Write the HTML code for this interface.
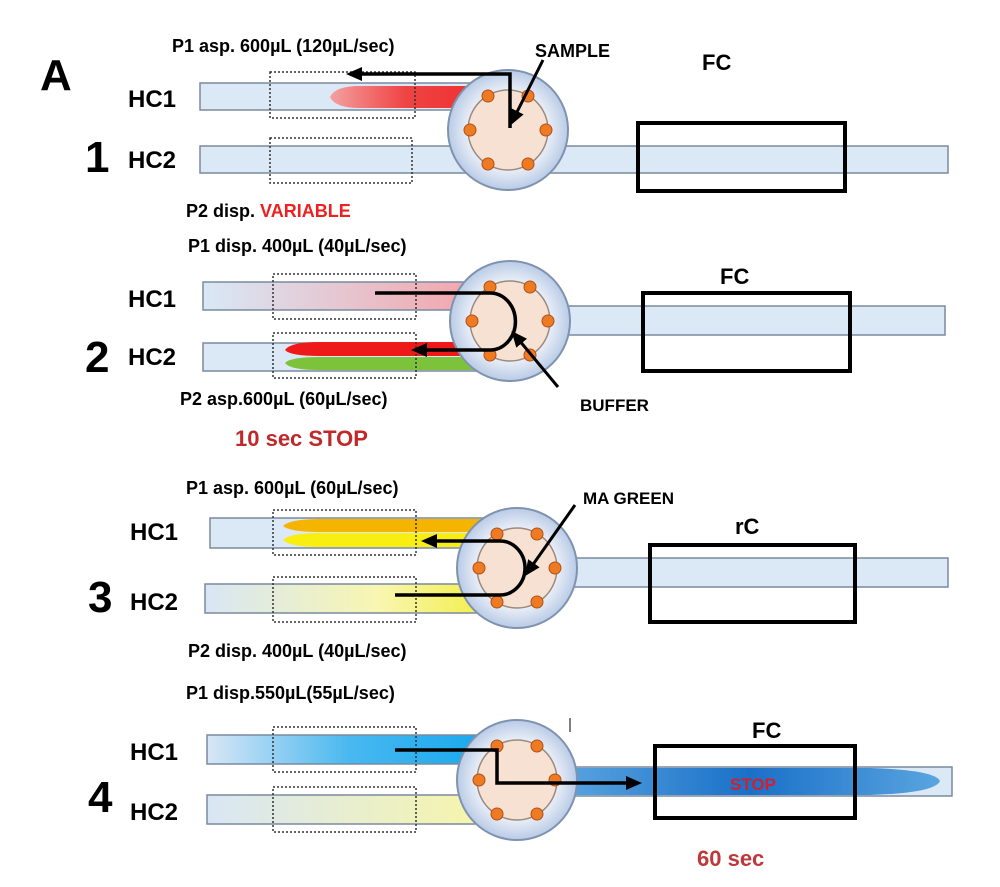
<!DOCTYPE html>
<html><head><meta charset="utf-8"><style>
html,body{margin:0;padding:0;background:#fff;width:1000px;height:887px;overflow:hidden}
svg{display:block}
text{font-family:"Liberation Sans",sans-serif;font-weight:bold}
</style></head><body>
<svg width="1000" height="887" viewBox="0 0 1000 887" xmlns="http://www.w3.org/2000/svg">
<defs>
<radialGradient id="vg" cx="50%" cy="50%" r="50%"><stop offset="0.6" stop-color="#f4f6fb"/><stop offset="1" stop-color="#b9cbe6"/></radialGradient>
<linearGradient id="red1" x1="0" x2="1"><stop offset="0" stop-color="#f4a0a0"/><stop offset="0.5" stop-color="#ef4444"/><stop offset="1" stop-color="#ee3030"/></linearGradient>
<linearGradient id="pink" x1="0" x2="1"><stop offset="0" stop-color="#d8e8f6"/><stop offset="1" stop-color="#f4a2a8"/></linearGradient>
<linearGradient id="yel" x1="0" x2="1"><stop offset="0" stop-color="#d8e6f5"/><stop offset="0.6" stop-color="#f8f6b0"/><stop offset="1" stop-color="#f3ee40"/></linearGradient>
<linearGradient id="yel4" x1="0" x2="1"><stop offset="0" stop-color="#d8e6f5"/><stop offset="1" stop-color="#f8f6a8"/></linearGradient>
<linearGradient id="blu" x1="0" x2="1"><stop offset="0" stop-color="#d8e6f5"/><stop offset="0.5" stop-color="#49b8f0"/><stop offset="1" stop-color="#15a8ee"/></linearGradient>
<linearGradient id="bluFC" x1="0" x2="1"><stop offset="0" stop-color="#5aa5e0"/><stop offset="0.5" stop-color="#1a70c8"/><stop offset="1" stop-color="#5aa5e0"/></linearGradient>
<g id="valve">
<circle r="60" fill="url(#vg)" stroke="#7f93b0" stroke-width="2"/>
<circle r="40" fill="#f7e1d2" stroke="#9a8a80" stroke-width="1.5"/>
<g fill="#ee7b22" stroke="#b0501a" stroke-width="1">
<circle cx="-20" cy="-34" r="6"/><circle cx="20" cy="-34" r="6"/><circle cx="38" cy="0" r="6"/>
<circle cx="20" cy="34" r="6"/><circle cx="-20" cy="34" r="6"/><circle cx="-38" cy="0" r="6"/></g>
</g>
<marker id="ah" markerWidth="16" markerHeight="14" refX="12" refY="7" orient="auto" markerUnits="userSpaceOnUse"><path d="M0,0 L16,7 L0,14 Z" fill="#000"/></marker>
</defs>

<!-- Panel 1 -->
<text x="40" y="90" font-size="44">A</text>
<text x="85" y="172" font-size="44">1</text>
<text x="128" y="107" font-size="24">HC1</text>
<text x="128" y="168" font-size="24">HC2</text>
<text x="172" y="52" font-size="18">P1 asp. 600µL (120µL/sec)</text>
<text x="535" y="57" font-size="18">SAMPLE</text>
<text x="702" y="70" font-size="22">FC</text>
<text x="186" y="217" font-size="18">P2 disp. <tspan fill="#ee2020">VARIABLE</tspan></text>
<rect x="200" y="83" width="280" height="27" fill="#dbe8f6" stroke="#7a8a9e" stroke-width="1.5"/>
<rect x="200" y="146" width="748" height="27" fill="#dbe8f6" stroke="#7a8a9e" stroke-width="1.5"/>
<path d="M330,97 Q335,86 360,86 L480,86 L480,108 L360,108 Q335,108 330,97Z" fill="url(#red1)"/>
<rect x="270" y="72" width="145" height="46" fill="none" stroke="#333" stroke-width="1.5" stroke-dasharray="2,2"/>
<rect x="270" y="138" width="142" height="45" fill="none" stroke="#333" stroke-width="1.5" stroke-dasharray="2,2"/>
<use href="#valve" x="508" y="130"/>
<path d="M510,128 L510,74 L350,74" fill="none" stroke="#000" stroke-width="3.5" marker-end="url(#ah)"/>
<path d="M543,60 L512,122" stroke="#000" stroke-width="3" marker-end="url(#ah)"/>
<rect x="638" y="123" width="207" height="68" fill="none" stroke="#000" stroke-width="4"/>

<!-- Panel 2 -->
<text x="85" y="372" font-size="44">2</text>
<text x="128" y="307" font-size="24">HC1</text>
<text x="128" y="365" font-size="24">HC2</text>
<text x="188" y="252" font-size="18">P1 disp. 400µL (40µL/sec)</text>
<text x="720" y="284" font-size="22">FC</text>
<text x="180" y="405" font-size="18">P2 asp.600µL (60µL/sec)</text>
<text x="580" y="411" font-size="17">BUFFER</text>
<text x="235" y="446" font-size="22" fill="#c0282a">10 sec STOP</text>
<rect x="203" y="282" width="285" height="28" fill="url(#pink)" stroke="#7a8a9e" stroke-width="1.5"/>
<rect x="203" y="343" width="285" height="28" fill="#dbe8f6" stroke="#7a8a9e" stroke-width="1.5"/>
<rect x="560" y="306" width="385" height="29" fill="#dbe8f6" stroke="#7a8a9e" stroke-width="1.5"/>
<path d="M285,350 Q290,342 320,342 L480,342 L480,356 L320,356 Q290,356 285,350Z" fill="#ee1a1a"/>
<path d="M285,363 Q290,357 320,357 L480,357 L480,370 L320,370 Q290,370 285,363Z" fill="#7cc23a"/>
<rect x="273" y="274" width="143" height="45" fill="none" stroke="#333" stroke-width="1.5" stroke-dasharray="2,2"/>
<rect x="273" y="333" width="143" height="45" fill="none" stroke="#333" stroke-width="1.5" stroke-dasharray="2,2"/>
<use href="#valve" x="510" y="321"/>
<path d="M375,293 L490,293 A25,28 0 0 1 490,350 L415,350" fill="none" stroke="#000" stroke-width="3.5" marker-end="url(#ah)"/>
<path d="M558,387 L514,334" stroke="#000" stroke-width="3" marker-end="url(#ah)"/>
<rect x="643" y="293" width="207" height="78" fill="none" stroke="#000" stroke-width="4"/>

<!-- Panel 3 -->
<text x="88" y="612" font-size="44">3</text>
<text x="130" y="540" font-size="24">HC1</text>
<text x="130" y="610" font-size="24">HC2</text>
<text x="186" y="494" font-size="18">P1 asp. 600µL (60µL/sec)</text>
<text x="583" y="504" font-size="17">MA GREEN</text>
<text x="735" y="534" font-size="22">rC</text>
<text x="188" y="657" font-size="18">P2 disp. 400µL (40µL/sec)</text>
<rect x="210" y="518" width="285" height="30" fill="#dbe8f6" stroke="#7a8a9e" stroke-width="1.5"/>
<rect x="205" y="584" width="290" height="29" fill="url(#yel)" stroke="#7a8a9e" stroke-width="1.5"/>
<rect x="565" y="558" width="383" height="29" fill="#dbe8f6" stroke="#7a8a9e" stroke-width="1.5"/>
<path d="M283,526 Q290,519 320,519 L490,519 L490,532 L320,532 Q290,532 283,526Z" fill="#f4b400"/>
<path d="M283,540 Q290,533 320,533 L490,533 L490,547 L320,547 Q290,547 283,540Z" fill="#f8ee10"/>
<rect x="273" y="510" width="143" height="45" fill="none" stroke="#333" stroke-width="1.5" stroke-dasharray="2,2"/>
<rect x="273" y="577" width="143" height="45" fill="none" stroke="#333" stroke-width="1.5" stroke-dasharray="2,2"/>
<use href="#valve" x="517" y="568"/>
<path d="M395,595 L500,595 A25,27 0 0 0 500,541 L425,541" fill="none" stroke="#000" stroke-width="3.5" marker-end="url(#ah)"/>
<path d="M575,505 L527,573" stroke="#000" stroke-width="3" marker-end="url(#ah)"/>
<rect x="650" y="545" width="205" height="77" fill="none" stroke="#000" stroke-width="4"/>

<!-- Panel 4 -->
<text x="88" y="812" font-size="44">4</text>
<text x="130" y="760" font-size="24">HC1</text>
<text x="130" y="820" font-size="24">HC2</text>
<text x="186" y="699" font-size="18">P1 disp.550µL(55µL/sec)</text>
<text x="752" y="738" font-size="22">FC</text>
<text x="697" y="866" font-size="22" fill="#c0383a">60 sec</text>
<rect x="207" y="735" width="285" height="29" fill="url(#blu)" stroke="#7a8a9e" stroke-width="1.5"/>
<rect x="207" y="795" width="285" height="29" fill="url(#yel4)" stroke="#7a8a9e" stroke-width="1.5"/>
<rect x="560" y="767" width="392" height="29" fill="#dbe8f6" stroke="#7a8a9e" stroke-width="1.5"/>
<path d="M560,768 L870,768 Q935,770 940,781 Q935,793 870,795 L560,795Z" fill="url(#bluFC)"/>
<rect x="273" y="727" width="143" height="45" fill="none" stroke="#333" stroke-width="1.5" stroke-dasharray="2,2"/>
<rect x="273" y="787" width="143" height="45" fill="none" stroke="#333" stroke-width="1.5" stroke-dasharray="2,2"/>
<line x1="570" y1="718" x2="570" y2="732" stroke="#555" stroke-width="1.5"/>
<use href="#valve" x="517" y="780"/>
<path d="M395,750 L497,750 L497,783 L638,783" fill="none" stroke="#000" stroke-width="3.5" marker-end="url(#ah)"/>
<rect x="655" y="746" width="200" height="72" fill="none" stroke="#000" stroke-width="4"/>
<text x="730" y="790" font-size="17" fill="#d02030">STOP</text>
</svg>
</body></html>
